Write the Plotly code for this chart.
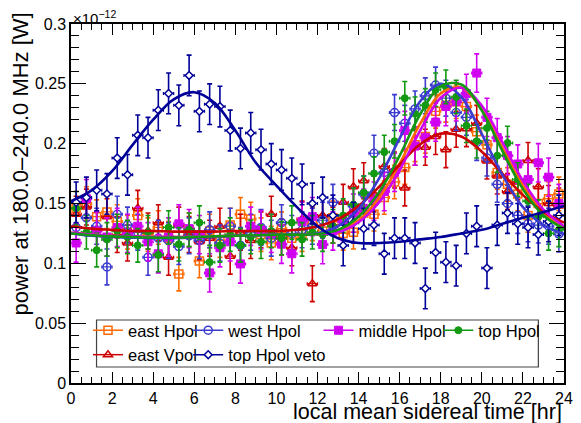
import plotly.graph_objects as go

# bin centres [hr]
hours = [0.25, 0.75, 1.25, 1.75, 2.25, 2.75, 3.25, 3.75, 4.25, 4.75, 5.25, 5.75,
         6.25, 6.75, 7.25, 7.75, 8.25, 8.75, 9.25, 9.75, 10.25, 10.75, 11.25, 11.75,
         12.25, 12.75, 13.25, 13.75, 14.25, 14.75, 15.25, 15.75, 16.25, 16.75, 17.25, 17.75,
         18.25, 18.75, 19.25, 19.75, 20.25, 20.75, 21.25, 21.75, 22.25, 22.75, 23.25, 23.75]

# power [1e-12 W]
east_hpol = [0.146, 0.150, 0.139, 0.143, 0.135, 0.126, 0.140, 0.124, 0.130, 0.121, 0.091, 0.128,
             0.102, 0.127, 0.119, 0.132, 0.141, 0.137, 0.124, 0.117, 0.129, 0.121, 0.124, 0.133,
             0.127, 0.138, 0.125, 0.126, 0.142, 0.141, 0.155, 0.168, 0.180, 0.199, 0.206, 0.227,
             0.232, 0.235, 0.231, 0.210, 0.199, 0.176, 0.166, 0.158, 0.140, 0.150, 0.154, 0.158]
east_vpol = [0.141, 0.147, 0.128, 0.139, 0.124, 0.117, 0.146, 0.127, 0.134, 0.105, 0.132, 0.124,
             0.118, 0.121, 0.131, 0.106, 0.126, 0.119, 0.128, 0.141, 0.122, 0.113, 0.137, 0.083,
             0.140, 0.132, 0.151, 0.164, 0.169, 0.158, 0.181, 0.178, 0.163, 0.197, 0.197, 0.206,
             0.195, 0.212, 0.2125, 0.217, 0.1855, 0.173, 0.160, 0.168, 0.186, 0.164, 0.150, 0.148]
west_hpol = [0.130, 0.138, 0.131, 0.097, 0.141, 0.132, 0.126, 0.105, 0.121, 0.119, 0.114, 0.123,
             0.119, 0.128, 0.117, 0.131, 0.115, 0.126, 0.130, 0.121, 0.134, 0.125, 0.128, 0.131,
             0.136, 0.151, 0.135, 0.148, 0.158, 0.192, 0.176, 0.226, 0.217, 0.229, 0.240, 0.249,
             0.238, 0.226, 0.222, 0.201, 0.188, 0.166, 0.150, 0.140, 0.133, 0.132, 0.131, 0.1245]
middle_hpol = [0.117, 0.154, 0.127, 0.122, 0.130, 0.125, 0.131, 0.118, 0.108, 0.122, 0.133, 0.129,
               0.124, 0.092, 0.113, 0.118, 0.0995, 0.131, 0.128, 0.125, 0.116, 0.108, 0.135, 0.139,
               0.1157, 0.127, 0.135, 0.142, 0.146, 0.152, 0.160, 0.176, 0.211, 0.198, 0.205, 0.218,
               0.231, 0.235, 0.242, 0.259, 0.222, 0.205, 0.190, 0.183, 0.170, 0.184, 0.172, 0.150]
top_hpol = [0.146, 0.126, 0.111, 0.120, 0.127, 0.122, 0.115, 0.126, 0.107, 0.130, 0.116, 0.128,
            0.134, 0.101, 0.115, 0.124, 0.115, 0.122, 0.118, 0.127, 0.121, 0.134, 0.120, 0.126,
            0.124, 0.131, 0.140, 0.149, 0.159, 0.175, 0.193, 0.202, 0.238, 0.225, 0.232, 0.245,
            0.2475, 0.239, 0.215, 0.202, 0.213, 0.190, 0.2005, 0.170, 0.152, 0.139, 0.125, 0.128]
top_hpol_veto = [0.151, 0.155, 0.161, 0.158, 0.188, 0.174, 0.207, 0.205, 0.228, 0.242, 0.232, 0.257,
                 0.227, 0.233, 0.231, 0.211, 0.196, 0.209, 0.195, 0.183, 0.178, 0.171, 0.166, 0.150,
                 0.155, 0.140, 0.115, 0.134, 0.129, 0.132, 0.108, 0.121, 0.121, 0.117, 0.079, 0.109,
                 0.101, 0.098, 0.125, 0.131, 0.096, 0.132, 0.142, 0.133, 0.130, 0.124, 0.135, 0.140]

# vertical uncertainties [1e-12 W]
err_east_hpol = 0.014
err_east_vpol = 0.015
err_west_hpol = 0.015
err_middle_hpol = 0.016
err_top_hpol = 0.014
err_veto = 0.017
half_bin = 0.25

# fitted curves
fit_hours = [0, 1, 2, 3, 4, 5, 6, 7, 8, 9, 10, 11, 12, 13, 14, 15, 16, 17, 18, 19, 20, 21, 22, 23, 24]
fit_east_hpol = [0.1255, 0.124, 0.123, 0.1225, 0.122, 0.122, 0.122, 0.1225, 0.123, 0.1235, 0.124, 0.124,
                 0.1245, 0.127, 0.136, 0.1546, 0.1833, 0.2168, 0.242, 0.2469, 0.2286, 0.1967, 0.165,
                 0.1423, 0.1299]
fit_east_vpol = [0.131, 0.129, 0.128, 0.127, 0.127, 0.1265, 0.1265, 0.1265, 0.127, 0.127, 0.127, 0.128,
                 0.131, 0.137, 0.148, 0.164, 0.1826, 0.1995, 0.2084, 0.206, 0.1933, 0.175, 0.157,
                 0.143, 0.134]
fit_west_hpol = [0.125, 0.123, 0.122, 0.1215, 0.121, 0.121, 0.1215, 0.122, 0.123, 0.1235, 0.124, 0.124,
                 0.125, 0.131, 0.1455, 0.171, 0.2045, 0.2354, 0.250, 0.239, 0.208, 0.174, 0.147,
                 0.132, 0.1245]
fit_middle_hpol = [0.1255, 0.124, 0.123, 0.1225, 0.122, 0.122, 0.122, 0.1225, 0.123, 0.1235, 0.124, 0.124,
                   0.1245, 0.126, 0.1343, 0.151, 0.178, 0.211, 0.2384, 0.2467, 0.2317, 0.2012, 0.1689,
                   0.1448, 0.131]
fit_top_hpol = [0.125, 0.1235, 0.1225, 0.122, 0.1215, 0.1215, 0.122, 0.1225, 0.123, 0.1235, 0.124, 0.124,
                0.1245, 0.128, 0.139, 0.1595, 0.190, 0.2246, 0.248, 0.2494, 0.2276, 0.194, 0.162,
                0.140, 0.129]
fit_veto = [0.152, 0.161, 0.177, 0.199, 0.220, 0.237, 0.243, 0.234, 0.211, 0.184, 0.165, 0.147,
            0.131, 0.121, 0.117, 0.117, 0.118, 0.120, 0.122, 0.125, 0.128, 0.133, 0.138, 0.143, 0.148]

x_ticks = [0, 2, 4, 6, 8, 10, 12, 14, 16, 18, 20, 22, 24]
y_ticks = [0, 0.05, 0.1, 0.15, 0.2, 0.25, 0.3]

series = [
    # name, values, err, fit, colour, symbol, marker fill, size, legend column
    ("east Hpol", east_hpol, err_east_hpol, fit_east_hpol, "#FF6A00", "square", "rgba(255,255,255,0)", 8, "legend"),
    ("east Vpol", east_vpol, err_east_vpol, fit_east_vpol, "#CC0000", "triangle-up", "rgba(255,255,255,0)", 8, "legend"),
    ("west Hpol", west_hpol, err_west_hpol, fit_west_hpol, "#3B3BD0", "circle", "rgba(255,255,255,0)", 8, "legend2"),
    ("middle Hpol", middle_hpol, err_middle_hpol, fit_middle_hpol, "#D000F0", "square", None, 8, "legend3"),
    ("top Hpol", top_hpol, err_top_hpol, fit_top_hpol, "#119911", "circle", None, 7, "legend4"),
    ("top Hpol veto", top_hpol_veto, err_veto, fit_veto, "#000099", "diamond", "white", 6, "legend2"),
]

fig = go.Figure()

def marker_for(col, sym, fill, size):
    if fill is None:
        return dict(symbol=sym, size=size, color=col, line=dict(color=col, width=1))
    return dict(symbol=sym, size=size, color=fill, line=dict(color=col, width=1.5))

for name, vals, err, fit, col, sym, fill, size, leg in series:
    fig.add_trace(go.Scatter(
        x=hours, y=vals, mode="markers", showlegend=False,
        marker=marker_for(col, sym, fill, size),
        error_y=dict(type="constant", value=err, color=col, thickness=1.6, width=2.5),
        error_x=dict(type="constant", value=half_bin, color=col, thickness=1.2, width=1.5),
    ))

for name, vals, err, fit, col, sym, fill, size, leg in series:
    fig.add_trace(go.Scatter(
        x=fit_hours, y=fit, mode="lines", showlegend=False,
        line=dict(color=col, width=2.6, shape="spline", smoothing=1.0),
    ))

# legend-only entries
for name, vals, err, fit, col, sym, fill, size, leg in series:
    fig.add_trace(go.Scatter(
        x=[None], y=[None], mode="lines+markers", name=name, legend=leg,
        marker=marker_for(col, sym, fill, size),
        line=dict(color=col, width=1.5),
    ))

axis_common = dict(
    showline=True, linecolor="black", linewidth=1.5, mirror="allticks",
    ticks="inside", tickcolor="black", tickwidth=1.2,
    showgrid=False, zeroline=False,
    tickfont=dict(family="Liberation Sans, Arial, sans-serif", size=16, color="black"),
)

fig.update_xaxes(range=[0, 24], tickvals=x_ticks, ticklen=11,
                 minor=dict(dtick=0.5, ticklen=6, ticks="inside", tickcolor="black", tickwidth=1.2),
                 **axis_common)
fig.update_yaxes(range=[0, 0.3], tickvals=y_ticks, ticklen=15,
                 minor=dict(dtick=0.01, ticklen=8, ticks="inside", tickcolor="black", tickwidth=1.2),
                 **axis_common)

leg_common = dict(orientation="v", yanchor="top", xanchor="left", y=0.195,
                  bgcolor="rgba(0,0,0,0)", borderwidth=0, itemwidth=30,
                  font=dict(size=16.5, color="black"), tracegroupgap=0)

# page body has an 8px margin: figure is sized so the page viewport matches
fig.update_layout(
    width=573, height=415,
    margin=dict(l=63, r=8, t=16, b=40),
    paper_bgcolor="white", plot_bgcolor="white",
    font=dict(family="Liberation Sans, Arial, sans-serif", color="black"),
    legend=dict(x=0.0345, **leg_common),
    legend2=dict(x=0.2377, **leg_common),
    legend3=dict(x=0.5020, **leg_common),
    legend4=dict(x=0.7450, **leg_common),
    shapes=[dict(type="rect", xref="paper", yref="paper",
                 x0=0.0518, x1=0.948, y0=0.0446, y1=0.1755,
                 line=dict(color="#444444", width=1.2), fillcolor="white", layer="above")],
    annotations=[
        dict(text="local mean sidereal time [hr]", xref="paper", yref="paper",
             x=1.0, y=-0.08, xanchor="right", yanchor="middle", showarrow=False,
             font=dict(size=21.5)),
        dict(text="power at 180.0\u2013240.0 MHz [W]", xref="paper", yref="paper",
             x=-0.1016, y=0.611, xanchor="center", yanchor="middle", textangle=-90,
             showarrow=False, font=dict(size=22)),
        dict(text="\u00d710<sup>\u221212</sup>", xref="paper", yref="paper",
             x=0.0, y=1.0, xanchor="left", yanchor="bottom", yshift=-5, showarrow=False,
             font=dict(size=15)),
    ],
)

fig.write_html("out.html")
